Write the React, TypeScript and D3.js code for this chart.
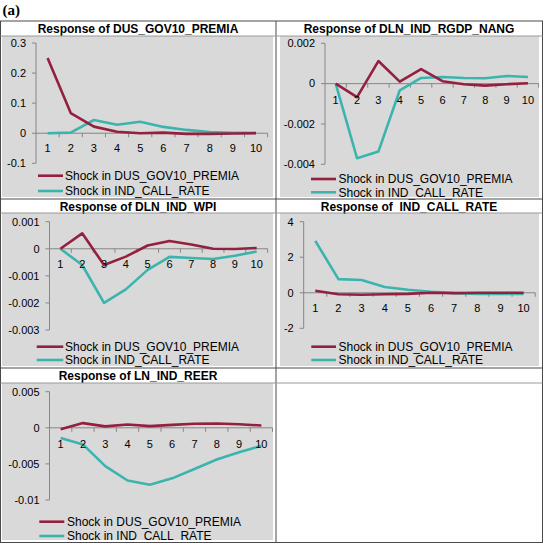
import React from "react";
import * as d3 from "d3";

// ---- data ----
const periods = [1, 2, 3, 4, 5, 6, 7, 8, 9, 10];
const seriesNames = ["Shock in DUS_GOV10_PREMIA", "Shock in IND_CALL_RATE"];
const titles = [
  "Response of DUS_GOV10_PREMIA",
  "Response of DLN_IND_RGDP_NANG",
  "Response of DLN_IND_WPI",
  "Response of  IND_CALL_RATE",
  "Response of LN_IND_REER",
];
const gov10Premia_shockPremia = [0.25, 0.067, 0.022, 0.005, 0.0, 0.002, -0.002, -0.002, -0.001, 0.0];
const gov10Premia_shockCall = [0.0, 0.002, 0.044, 0.028, 0.038, 0.021, 0.011, 0.004, 0.001, 0.001];
const rgdp_shockPremia = [0, -0.00067, 0.00112, 0.0001, 0.00072, 0.00012, -0.00003, -0.0001, -0.00003, 0.00002];
const rgdp_shockCall = [0, -0.0037, -0.00337, -0.00033, 0.00028, 0.00033, 0.00028, 0.00027, 0.00038, 0.00033];
const wpi_shockPremia = [0, 0.00057, -0.0006, -0.00029, 0.00012, 0.00029, 0.00016, 0.0, -0.00001, 0.00003];
const wpi_shockCall = [0, -0.0006, -0.002, -0.0015, -0.00078, -0.0003, -0.00034, -0.00038, -0.00026, -0.0001];
const call_shockPremia = [0.11, -0.08, -0.11, -0.08, -0.06, 0.0, -0.02, 0.0, 0.0, 0.0];
const call_shockCall = [2.92, 0.77, 0.72, 0.32, 0.17, 0.06, -0.02, -0.06, -0.06, -0.06];
const reer_shockPremia = [-0.0002, 0.00065, 0.0002, 0.00046, 0.00023, 0.0004, 0.00056, 0.0006, 0.0005, 0.00032];
const reer_shockCall = [-0.0014, -0.0023, -0.0053, -0.0073, -0.0079, -0.007, -0.0057, -0.0044, -0.0034, -0.0025];
const ticks1 = ["-0.1", "0", "0.1", "0.2", "0.3"];
const ticks2 = ["-0.004", "-0.002", "0", "0.002"];
const ticks3 = ["-0.003", "-0.002", "-0.001", "0", "0.001"];
const ticks4 = ["-2", "0", "2", "4"];
const ticks5 = ["-0.01", "-0.005", "0", "0.005"];

// ---- layout ----
const RED = "#94203f";
const TEAL = "#3cb4ae";
const FONT = "'Liberation Sans', Arial, sans-serif";

type Panel = {
  title: string;
  titleX: number;
  titleY: number;
  gray: [number, number, number, number];
  axisX: number;
  xEnd: number;
  yPx: [number, number];
  ticks: string[];
  a: number[];
  b: number[];
  legLine: [number, number];
  legText: number;
  legRows: [number, number];
  labelDy: number;
};

const panels: Panel[] = [
  {
    title: titles[0], titleX: 138, titleY: 28.5, gray: [2, 36, 271, 161],
    axisX: 36, xEnd: 267.6, yPx: [163.3, 43], ticks: ticks1,
    a: gov10Premia_shockPremia, b: gov10Premia_shockCall,
    legLine: [38, 63], legText: 65, legRows: [175.7, 191], labelDy: 15,
  },
  {
    title: titles[1], titleX: 409, titleY: 28.5, gray: [280, 36, 259, 161],
    axisX: 325, xEnd: 538.6, yPx: [164.3, 43.3], ticks: ticks2,
    a: rgdp_shockPremia, b: rgdp_shockCall,
    legLine: [311, 336], legText: 338.5, legRows: [179, 192.3], labelDy: 16.5,
  },
  {
    title: titles[2], titleX: 138, titleY: 206.5, gray: [2, 213, 271, 153],
    axisX: 49.5, xEnd: 267.6, yPx: [330, 221.7], ticks: ticks3,
    a: wpi_shockPremia, b: wpi_shockCall,
    legLine: [36.7, 63.3], legText: 65, legRows: [346.7, 360], labelDy: 15.7,
  },
  {
    title: titles[3], titleX: 409, titleY: 206.5, gray: [280, 213, 259, 153],
    axisX: 303.7, xEnd: 535.2, yPx: [328.3, 221.7], ticks: ticks4,
    a: call_shockPremia, b: call_shockCall,
    legLine: [311.3, 336], legText: 338.5, legRows: [346.7, 360], labelDy: 15.6,
  },
  {
    title: titles[4], titleX: 138, titleY: 376, gray: [2, 383, 271, 157],
    axisX: 49.5, xEnd: 272.5, yPx: [500, 391.7], ticks: ticks5,
    a: reer_shockPremia, b: reer_shockCall,
    legLine: [39.3, 64.3], legText: 67, legRows: [521.7, 536], labelDy: 16.3,
  },
];

function ChartPanel({ p }: { p: Panel }) {
  const tv = p.ticks.map(Number);
  const y = d3.scaleLinear().domain([d3.min(tv)!, d3.max(tv)!]).range(p.yPx);
  const x = d3.scalePoint<number>().domain(periods).range([p.axisX, p.xEnd]).padding(0.5);
  const band = x.step();
  const line = d3
    .line<number>()
    .x((_, i) => x(periods[i])!)
    .y((v) => y(v));
  const y0 = y(0);
  const axisColor = "#868686";
  return (
    <g>
      <rect x={p.gray[0]} y={p.gray[1]} width={p.gray[2]} height={p.gray[3]} fill="#d9d9d9" />
      <text x={p.titleX} y={p.titleY} dy="0.35em" textAnchor="middle" fontWeight="bold" fontSize={12} fontFamily={FONT} style={{ whiteSpace: "pre" }}>
        {p.title}
      </text>
      {/* y axis */}
      <line x1={p.axisX} x2={p.axisX} y1={y(tv[0])} y2={y(tv[tv.length - 1])} stroke={axisColor} strokeWidth={1} />
      {tv.map((t, i) => (
        <g key={i}>
          <line x1={p.axisX - 4} x2={p.axisX} y1={y(t)} y2={y(t)} stroke={axisColor} />
          <text x={p.axisX - 10} y={y(t)} dy="0.35em" textAnchor="end" fontSize={11} fontFamily={FONT} fill="#000">
            {p.ticks[i]}
          </text>
        </g>
      ))}
      {/* x axis */}
      <line x1={p.axisX} x2={p.xEnd} y1={y0} y2={y0} stroke={axisColor} />
      {periods.map((d) => (
        <line key={"t" + d} x1={x(d)! + band / 2} x2={x(d)! + band / 2} y1={y0} y2={y0 + 4} stroke={axisColor} />
      ))}
      {/* series */}
      <path d={line(p.b)!} fill="none" stroke={TEAL} strokeWidth={2.6} strokeLinejoin="round" />
      <path d={line(p.a)!} fill="none" stroke={RED} strokeWidth={2.6} strokeLinejoin="round" />
      {periods.map((d) => (
        <text key={"l" + d} x={x(d)!} y={y0 + p.labelDy} dy="0.35em" textAnchor="middle" fontSize={11} fontFamily={FONT} fill="#000">
          {d}
        </text>
      ))}
      {/* legend */}
      {[RED, TEAL].map((c, i) => (
        <g key={"lg" + i}>
          <line x1={p.legLine[0]} x2={p.legLine[1]} y1={p.legRows[i]} y2={p.legRows[i]} stroke={c} strokeWidth={2.6} />
          <text x={p.legText} y={p.legRows[i]} dy="0.35em" fontSize={12} fontFamily={FONT} fill="#000">
            {seriesNames[i]}
          </text>
        </g>
      ))}
    </g>
  );
}

export default function App() {
  const border = "#4a4a4a";
  return (
    <svg width={544} height={545} style={{ position: "absolute", left: 0, top: 0, background: "#fff" }}>
      <text x={2.5} y={15} fontFamily="'Liberation Serif', 'Times New Roman', serif" fontWeight="bold" fontSize={15}>
        (a)
      </text>
      {panels.map((p, i) => (
        <ChartPanel key={i} p={p} />
      ))}
      {/* table grid */}
      <g stroke={border} strokeWidth={1} fill="none">
        <rect x={0.5} y={21} width={542} height={521.5} />
        <line x1={276} x2={276} y1={21} y2={542.5} />
        <line x1={0.5} x2={542.5} y1={36} y2={36} stroke="#9a9a9a" />
        <line x1={0.5} x2={542.5} y1={199} y2={199} />
        <line x1={0.5} x2={542.5} y1={213} y2={213} stroke="#9a9a9a" />
        <line x1={0.5} x2={542.5} y1={368} y2={368} />
        <line x1={0.5} x2={542.5} y1={383} y2={383} stroke="#9a9a9a" />
      </g>
    </svg>
  );
}
